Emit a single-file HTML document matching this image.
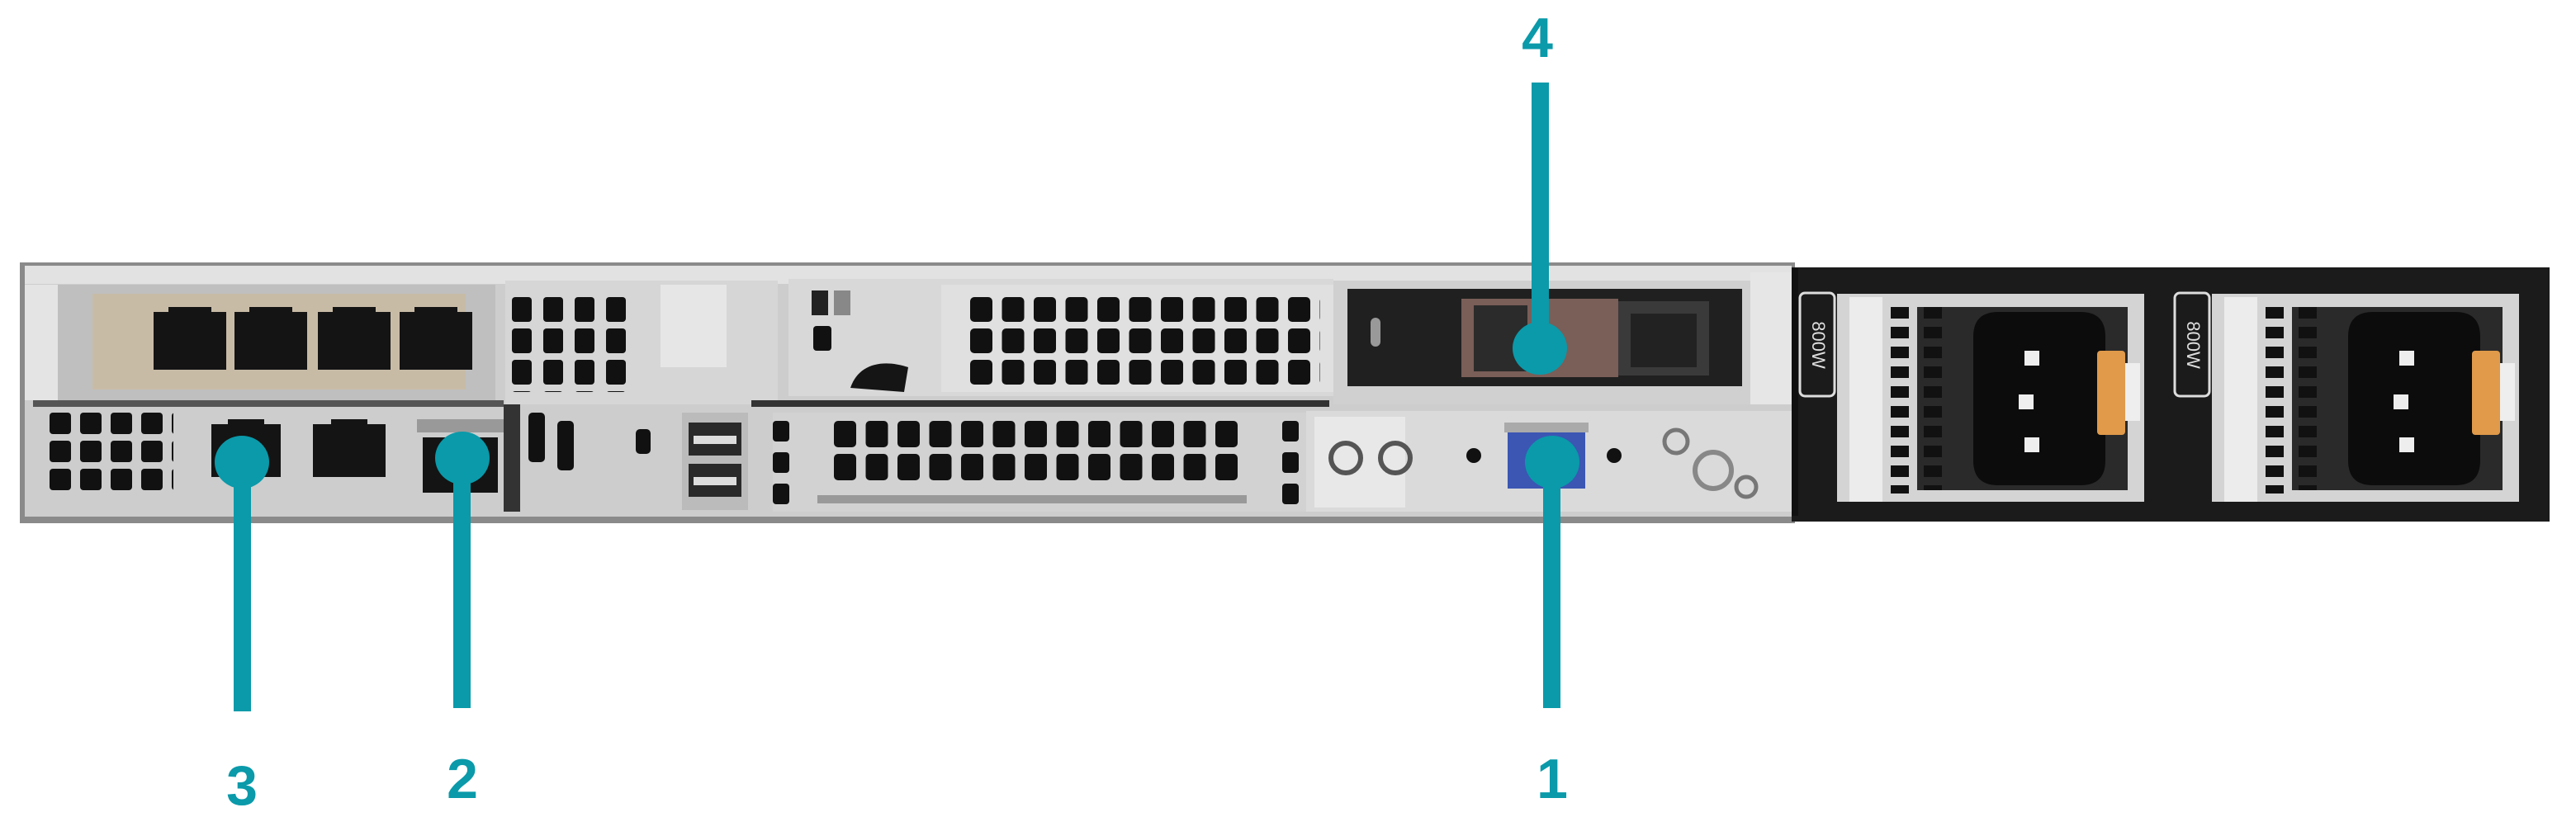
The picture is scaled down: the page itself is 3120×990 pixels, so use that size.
<!DOCTYPE html>
<html><head><meta charset="utf-8"><style>
html,body{margin:0;padding:0;background:#fff;}
body{width:3120px;height:990px;position:relative;overflow:hidden;font-family:"Liberation Sans",sans-serif;}
.lbl{position:absolute;color:#0a9aaa;font-weight:bold;font-size:68px;line-height:1;transform:translateX(-50%);}
</style></head><body>
<svg width="3120" height="990" viewBox="0 0 3120 990" style="position:absolute;left:0;top:0">
<defs>
<pattern id="g1" x="1175" y="360" width="38.5" height="38" patternUnits="userSpaceOnUse"><rect x="0" y="0" width="27" height="30" rx="5" fill="#111"/></pattern>
<pattern id="g2" x="1010" y="510" width="38.5" height="40" patternUnits="userSpaceOnUse"><rect x="0" y="0" width="27" height="32" rx="5" fill="#111"/></pattern>
<pattern id="g3" x="60" y="500" width="37" height="34" patternUnits="userSpaceOnUse"><rect x="0" y="0" width="26" height="26" rx="4" fill="#111"/></pattern>
<pattern id="g4" x="620" y="360" width="38" height="38" patternUnits="userSpaceOnUse"><rect x="0" y="0" width="24" height="30" rx="4" fill="#111"/></pattern>
<pattern id="ps" x="0" y="372" width="20" height="24" patternUnits="userSpaceOnUse"><rect x="0" y="0" width="20" height="14" fill="#111"/></pattern>
</defs>
<!-- chassis -->
<rect x="24" y="318" width="2150" height="316" fill="#8a8a8a"/>
<rect x="2170" y="324" width="918" height="308" fill="#1b1b1b"/>
<rect x="30" y="324" width="2140" height="302" fill="#cdcdcd"/>
<rect x="30" y="322" width="2140" height="22" fill="#e2e2e2"/>
<!-- NIC card -->
<rect x="40" y="345" width="560" height="145" fill="#bfbfbf"/>
<rect x="112" y="356" width="452" height="116" fill="#c8bba6"/>
<g fill="#141414">
<path d="M186 378h18v-6h52v6h18v70h-88z"/>
<path d="M284 378h18v-6h52v6h18v70h-88z"/>
<path d="M385 378h18v-6h52v6h18v70h-88z"/>
<path d="M484 378h18v-6h52v6h18v70h-88z"/>
</g>
<rect x="40" y="485" width="570" height="8" fill="#555"/>
<rect x="30" y="345" width="40" height="140" fill="#e4e4e4"/>
<!-- lower left -->
<rect x="55" y="495" width="155" height="105" fill="url(#g3)"/>
<path d="M256 514h20v-6h44v6h20v64h-84z" fill="#141414"/>
<path d="M379 514h22v-6h44v6h22v64h-88z" fill="#141414"/>
<rect x="512" y="530" width="91" height="67" fill="#141414"/>
<rect x="505" y="508" width="105" height="16" fill="#999"/>
<!-- riser left -->
<rect x="612" y="340" width="330" height="150" fill="#d6d6d6"/>
<rect x="620" y="360" width="140" height="115" fill="url(#g4)"/>
<rect x="800" y="345" width="80" height="100" fill="#e6e6e6"/>
<rect x="610" y="490" width="20" height="130" fill="#333"/>
<rect x="640" y="500" width="20" height="60" rx="5" fill="#111"/>
<rect x="675" y="510" width="20" height="60" rx="5" fill="#111"/>
<!-- USB -->
<rect x="826" y="500" width="80" height="118" fill="#bbb"/>
<rect x="834" y="512" width="64" height="40" fill="#2a2a2a"/>
<rect x="834" y="562" width="64" height="40" fill="#2a2a2a"/>
<rect x="840" y="528" width="52" height="10" fill="#ddd"/>
<rect x="840" y="578" width="52" height="10" fill="#ddd"/>
<rect x="770" y="520" width="18" height="30" rx="5" fill="#111"/>
<!-- middle riser -->
<rect x="955" y="338" width="660" height="142" fill="#d8d8d8"/>
<rect x="1140" y="345" width="475" height="130" fill="#e0e0e0"/>
<rect x="1175" y="360" width="424" height="110" fill="url(#g1)"/>
<rect x="983" y="352" width="20" height="30" fill="#222"/>
<rect x="1010" y="352" width="20" height="30" fill="#888"/>
<rect x="985" y="395" width="22" height="30" rx="4" fill="#111"/>
<path d="M1030 470c10-30 40-35 70-25l-5 30z" fill="#151515"/>
<rect x="910" y="485" width="700" height="8" fill="#333"/>
<rect x="936" y="500" width="660" height="120" fill="#d2d2d2"/>
<rect x="1010" y="510" width="500" height="75" fill="url(#g2)"/>
<rect x="936" y="510" width="20" height="25" rx="4" fill="#111"/><rect x="936" y="548" width="20" height="25" rx="4" fill="#111"/><rect x="936" y="586" width="20" height="25" rx="4" fill="#111"/>
<rect x="1553" y="510" width="20" height="25" rx="4" fill="#111"/><rect x="1553" y="548" width="20" height="25" rx="4" fill="#111"/><rect x="1553" y="586" width="20" height="25" rx="4" fill="#111"/>
<rect x="990" y="600" width="520" height="10" fill="#999"/>
<!-- OCP -->
<rect x="1615" y="340" width="555" height="150" fill="#d0d0d0"/>
<rect x="1632" y="350" width="478" height="118" fill="#202020"/>
<rect x="1770" y="362" width="190" height="95" fill="#7a5e58"/>
<rect x="1785" y="370" width="65" height="80" fill="#2b2b2b"/>
<rect x="1960" y="365" width="110" height="90" fill="#3a3a3a"/>
<rect x="1975" y="380" width="80" height="65" fill="#222"/>
<rect x="1660" y="385" width="12" height="35" rx="6" fill="#999"/>
<rect x="2120" y="330" width="50" height="160" fill="#e6e6e6"/>
<!-- lower right panel -->
<rect x="1582" y="498" width="588" height="122" fill="#dadada"/>
<rect x="1592" y="505" width="110" height="110" fill="#e8e8e8"/>
<circle cx="1630" cy="555" r="18" fill="none" stroke="#555" stroke-width="6"/>
<circle cx="1690" cy="555" r="18" fill="none" stroke="#555" stroke-width="6"/>
<circle cx="1785" cy="552" r="9" fill="#111"/>
<rect x="1822" y="512" width="102" height="12" fill="#aaa"/>
<rect x="1826" y="524" width="94" height="68" fill="#3b56b3"/>
<circle cx="1955" cy="552" r="9" fill="#111"/>
<circle cx="2030" cy="535" r="14" fill="none" stroke="#777" stroke-width="5"/>
<circle cx="2075" cy="570" r="22" fill="none" stroke="#888" stroke-width="6"/>
<circle cx="2115" cy="590" r="12" fill="none" stroke="#777" stroke-width="5"/>
<!-- PSUs -->
<g id="psu">
<rect x="2180" y="355" width="42" height="125" rx="6" fill="none" stroke="#ddd" stroke-width="3"/>
<text x="2201" y="418" transform="rotate(90 2201 418)" font-family="Liberation Sans" font-size="22" fill="#ddd" text-anchor="middle" dominant-baseline="middle">800W</text>
<rect x="2225" y="356" width="372" height="252" fill="#d4d4d4"/>
<rect x="2240" y="360" width="40" height="248" fill="#ececec"/>
<rect x="2290" y="368" width="22" height="230" fill="url(#ps)"/>
<rect x="2322" y="372" width="255" height="222" fill="#2a2a2a"/>
<rect x="2330" y="372" width="22" height="222" fill="url(#ps)"/>
<path d="M2420 378h100q30 0 30 30v150q0 30 -30 30h-100q-30 0 -30-30v-150q0-30 30-30z" fill="#0c0c0c"/>
<rect x="2452" y="425" width="18" height="18" fill="#eee"/>
<rect x="2445" y="478" width="18" height="18" fill="#eee"/>
<rect x="2452" y="530" width="18" height="18" fill="#eee"/>
<rect x="2540" y="425" width="34" height="102" rx="4" fill="#e09a4a"/>
<rect x="2574" y="440" width="18" height="70" fill="#eee"/>
</g>
<use href="#psu" x="454"/>
<rect x="2170" y="325" width="8" height="300" fill="#111"/>
<!-- callouts -->
<g fill="#0a9aaa">
<rect x="1855" y="100" width="21" height="300"/>
<ellipse cx="1865" cy="422" rx="33" ry="32"/>
<rect x="1869" y="560" width="21" height="298"/>
<ellipse cx="1880" cy="560" rx="33" ry="32"/>
<rect x="549" y="556" width="21" height="302"/>
<ellipse cx="560" cy="555" rx="33" ry="32"/>
<rect x="283" y="560" width="21" height="302"/>
<ellipse cx="293" cy="560" rx="33" ry="32"/>
</g>
</svg>
<div class="lbl" style="left:1862px;top:12px">4</div>
<div class="lbl" style="left:1880px;top:910px">1</div>
<div class="lbl" style="left:560px;top:910px">2</div>
<div class="lbl" style="left:293px;top:918px">3</div>
</body></html>
